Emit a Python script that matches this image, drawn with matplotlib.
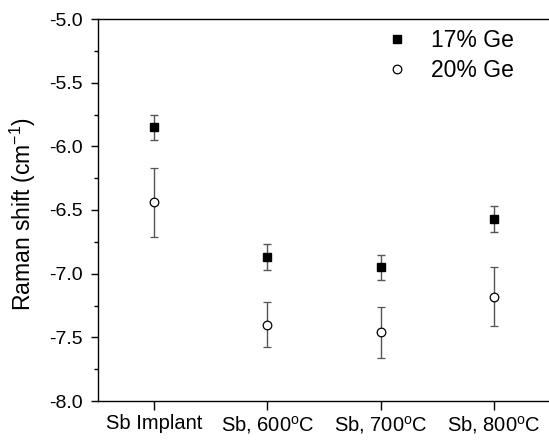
import matplotlib
matplotlib.use("Agg")
import matplotlib.pyplot as plt
from matplotlib.ticker import MultipleLocator
from matplotlib.lines import Line2D

plt.rcParams['font.family'] = ['Liberation Sans', 'DejaVu Sans']
plt.rcParams['mathtext.fontset'] = 'custom'
plt.rcParams['mathtext.rm'] = 'Liberation Sans'
plt.rcParams['mathtext.it'] = 'Liberation Sans'

categories = ['Sb Implant', 'Sb, 600$^\\mathrm{o}$C', 'Sb, 700$^\\mathrm{o}$C', 'Sb, 800$^\\mathrm{o}$C']
ge17 = [-5.85, -6.87, -6.95, -6.57]
ge17_err = [0.10, 0.10, 0.10, 0.10]
ge20 = [-6.44, -7.40, -7.46, -7.18]
ge20_err = [0.27, 0.175, 0.20, 0.23]
yticks = [-8.0, -7.5, -7.0, -6.5, -6.0, -5.5, -5.0]

W, H = 549, 445
fig = plt.figure(figsize=(W / 100, H / 100), dpi=100)
left, right, top, bottom = 97.5, 550.7, 19, 401
ax = fig.add_axes([left / W, 1 - bottom / H, (right - left) / W, (bottom - top) / H])

x = list(range(1, len(categories) + 1))
ax.errorbar(x, ge17, yerr=ge17_err, fmt='s', color='black', ecolor='#555555',
            elinewidth=1, capsize=3.2, capthick=1, markersize=5.8, zorder=3)
ax.errorbar(x, ge20, yerr=ge20_err, fmt='o', color='black', mfc='white', mec='black',
            ecolor='#555555', elinewidth=1, capsize=3.2, capthick=1, markersize=6.2,
            markeredgewidth=0.9, zorder=3)

ax.set_xlim(0.5, 4.5)
ax.set_ylim(-8.0, -5.0)
ax.set_xticks(x)
ax.set_xticklabels(categories, fontsize=14.5)
ax.set_yticks(yticks)
ax.set_yticklabels([f'{v:.1f}' for v in yticks], fontsize=14)
ax.yaxis.set_minor_locator(MultipleLocator(0.25))
ax.tick_params(axis='y', which='major', direction='out', length=5, width=1, pad=5.5)
ax.tick_params(axis='y', which='minor', direction='out', length=3, width=1)
ax.tick_params(axis='x', which='major', direction='out', length=6.5, width=1, pad=3)
ax.spines['right'].set_visible(False)
for s in ['left', 'bottom', 'top']:
    ax.spines[s].set_linewidth(1)

ax.set_ylabel('Raman shift (cm$^{-1}$)', fontsize=16.5)
ax.yaxis.set_label_coords((38 - left) / (right - left), 0.49)

handles = [
    Line2D([], [], marker='s', linestyle='none', color='black', markersize=5.8),
    Line2D([], [], marker='o', linestyle='none', color='black', mfc='white',
           markersize=6.2, markeredgewidth=0.9),
]
fig.legend(handles, ['17% Ge', '20% Ge'], loc='upper left',
           bbox_to_anchor=(385.5 / W, 1 - 29 / H), frameon=False,
           fontsize=16.5, handletextpad=0.98, handlelength=1.0,
           labelspacing=0.3, borderaxespad=0, borderpad=0)

fig.savefig('out.png', dpi=100)
